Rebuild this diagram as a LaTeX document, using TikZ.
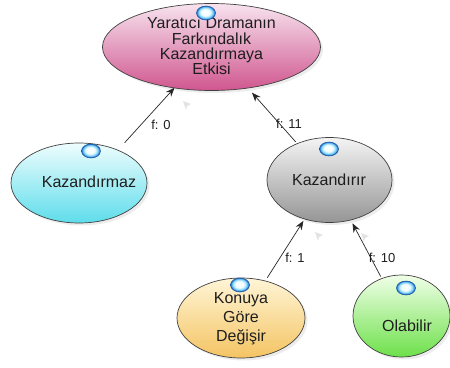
\documentclass[tikz,border=0pt]{standalone}
\usepackage{fontspec}
\setmainfont{Liberation Sans}
\usetikzlibrary{arrows.meta,shapes.geometric,shadows}

\definecolor{pinkL}{HTML}{F7E3EE}\definecolor{pinkD}{HTML}{D0568F}
\definecolor{cyanL}{HTML}{EEFDFE}\definecolor{cyanD}{HTML}{5EDDEB}
\definecolor{greyL}{HTML}{F4F4F4}\definecolor{greyD}{HTML}{959595}
\definecolor{yellL}{HTML}{FFF5D6}\definecolor{yellD}{HTML}{F4C463}
\definecolor{grenL}{HTML}{F0FFE8}\definecolor{grenD}{HTML}{6DE04A}
\definecolor{bulbRim}{HTML}{1E6ED2}\definecolor{bulbMid}{HTML}{7FD3F7}\definecolor{bulbCore}{HTML}{EEFCFF}
\definecolor{ink}{HTML}{1E1E1E}

% glassy marker: bright core, saturated blue rim
\pgfdeclareradialshading{bulbshade}{\pgfpoint{-2bp}{3bp}}{%
  color(0bp)=(white); color(12bp)=(bulbCore); color(19bp)=(bulbMid);
  color(24bp)=(bulbRim); color(50bp)=(bulbRim)}

\begin{document}
\begin{tikzpicture}[x=1pt,y=-1pt,
  bubble/.style={ellipse, draw=black!75, line width=0.7pt, inner sep=0pt,
    shading angle=45,
    drop shadow={opacity=0.15, shadow xshift=2.5pt, shadow yshift=-2.5pt}},
  lbl/.style={font=\fontsize{16}{16}\selectfont, text=ink, align=center, inner sep=0pt},
  flabel/.style={font=\fontsize{13}{13}\selectfont, text=ink, inner sep=0pt},
  link/.style={draw=black!85, line width=0.7pt, -{Stealth[length=9pt,width=7pt]}},
  bulb/.style={ellipse, minimum width=19pt, minimum height=14pt, inner sep=0pt,
    draw=bulbRim!70!black, line width=0.5pt, shading=bulbshade},
  ghost/.style={fill=gray!22, draw=none}
]
\useasboundingbox (0,0) rectangle (450,367);

% ellipses
\node[bubble, top color=pinkL, bottom color=pinkD, minimum width=218pt, minimum height=87pt] (top) at (211.5,47) {};
\node[bubble, top color=cyanL, bottom color=cyanD, minimum width=136pt, minimum height=80pt] (kz) at (79,183) {};
\node[bubble, top color=greyL, bottom color=greyD, minimum width=125pt, minimum height=85pt] (kr) at (329.5,180) {};
\node[bubble, top color=yellL, bottom color=yellD, minimum width=128pt, minimum height=80pt] (ko) at (241,318) {};
\node[bubble, top color=grenL, bottom color=grenD, minimum width=97pt, minimum height=82pt] (ol) at (401.5,316) {};

% texts
\node[lbl, font=\fontsize{16}{15.3}\selectfont] (topt) at (211.5,46.5) {Yaratıcı Dramanın\\Farkındalık\\Kazandırmaya\\Etkisi};
\node[lbl] (kzt) at (89,182) {Kazandırmaz};
\node[lbl] (krt) at (329,180) {Kazandırır};
\node[lbl, font=\fontsize{16}{19}\selectfont] (kot) at (241,319) {Konuya\\Göre\\Değişir};
\node[lbl] (olt) at (407,326) {Olabilir};

% faint tip marks
\fill[ghost] (183,101) -- (191,104) -- (187,106) -- (186,110) -- cycle;
\fill[ghost] (315,232) -- (323,235) -- (319,237) -- (318,241) -- cycle;
\fill[ghost] (361,233) -- (369,236) -- (365,238) -- (364,242) -- cycle;

% connectors
\draw[link, shorten <=53pt, shorten >=55pt] (kzt.center) -- (top.center);
\draw[link, shorten <=51pt, shorten >=61pt] (kr.center) -- (top.center);
\draw[link, shorten <=49pt, shorten >=48.5pt] (kot.center) -- (kr.center);
\draw[link, shorten <=56pt, shorten >=49pt] (olt.center) -- (kr.center);

% frequency labels
\node[flabel] (f0) at (161,125) {f: 0};
\node[flabel] (f11) at (289,124) {f: 11};
\node[flabel] (f1) at (295,258) {f: 1};
\node[flabel] (f10) at (382,258) {f: 10};

% markers
\node[bulb] (b0) at (206,13) {};
\node[bulb] (b1) at (91,151) {};
\node[bulb] (b2) at (329,149) {};
\node[bulb] (b3) at (240,285) {};
\node[bulb] (b4) at (406,288) {};
\end{tikzpicture}
\end{document}
